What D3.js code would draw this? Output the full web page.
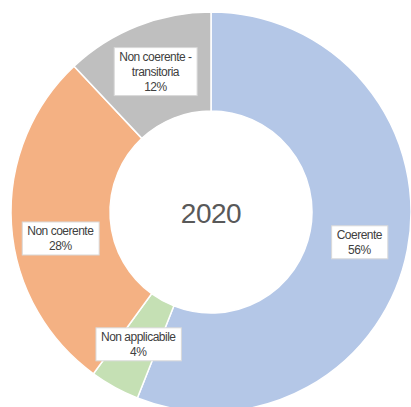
<!DOCTYPE html>
<html>
<head>
<meta charset="utf-8">
<script src="https://cdn.jsdelivr.net/npm/d3@7"></script>
<style>
  body { margin: 0; background: #fff; }
  svg { display: block; font-family: "Liberation Sans", Arial, sans-serif; }
</style>
</head>
<body>
<div id="chart"></div>
<script>
// Chart data
const categories = ["Coerente", "Non applicabile", "Non coerente", "Non coerente - transitoria"];
const values = [56, 4, 28, 12];
const labelLines = [["Coerente"], ["Non applicabile"], ["Non coerente"], ["Non coerente -", "transitoria"]];
const colors = ["#b4c7e7", "#c5e0b4", "#f4b183", "#bfbfbf"];
const centerTitle = "2020";

const width = 411,
      height = 407;

const cx = 211, cy = 212;
const outerR = 200, innerR = 101;

const svg = d3.select("#chart").append("svg")
    .attr("width", width)
    .attr("height", height);

const g = svg.append("g")
    .attr("transform", `translate(${cx},${cy})`);

const pie = d3.pie().sort(null).value(d => d);
const arcs = pie(values);

const arc = d3.arc().innerRadius(innerR).outerRadius(outerR);
const labelArc = d3.arc().innerRadius(151).outerRadius(151);

// Slices
g.selectAll("path.slice")
    .data(arcs)
    .enter().append("path")
    .attr("class", "slice")
    .attr("d", arc)
    .style("fill", (d, i) => colors[i])
    .style("stroke", "#fff")
    .style("stroke-width", 1.5);

// Centre title
g.append("text")
    .attr("x", 0)
    .attr("y", 11)
    .attr("text-anchor", "middle")
    .style("font-size", "28px")
    .style("letter-spacing", "-0.5px")
    .style("fill", "#595959")
    .text(centerTitle);

// Data labels (Excel moved the "Non coerente" one down a bit)
const nudgeY = [2, 0, 17, 0];
const lineH = 15;

arcs.forEach((d, i) => {
    const [x, y] = labelArc.centroid(d);
    const lines = labelLines[i].concat([Math.round(values[i]) + "%"]);
    const lg = g.append("g")
        .attr("transform", `translate(${x},${y + nudgeY[i]})`);

    const rect = lg.append("rect");
    const txt = lg.append("text")
        .attr("text-anchor", "middle")
        .style("font-size", "12px")
        .style("letter-spacing", "-0.5px")
        .style("fill", "#404040");

    const top = -(lines.length * lineH) / 2;
    lines.forEach((l, j) => {
        txt.append("tspan")
            .attr("x", 0)
            .attr("y", top + j * lineH + 11.5)
            .text(l);
    });

    const bb = txt.node().getBBox();
    const padX = 5, padY = 1.5;
    rect.attr("x", bb.x - padX)
        .attr("y", top - padY)
        .attr("width", bb.width + padX * 2)
        .attr("height", lines.length * lineH + padY * 2)
        .style("fill", "#fff")
        .style("stroke", "#d9d9d9")
        .style("stroke-width", 1);
});
</script>
</body>
</html>
